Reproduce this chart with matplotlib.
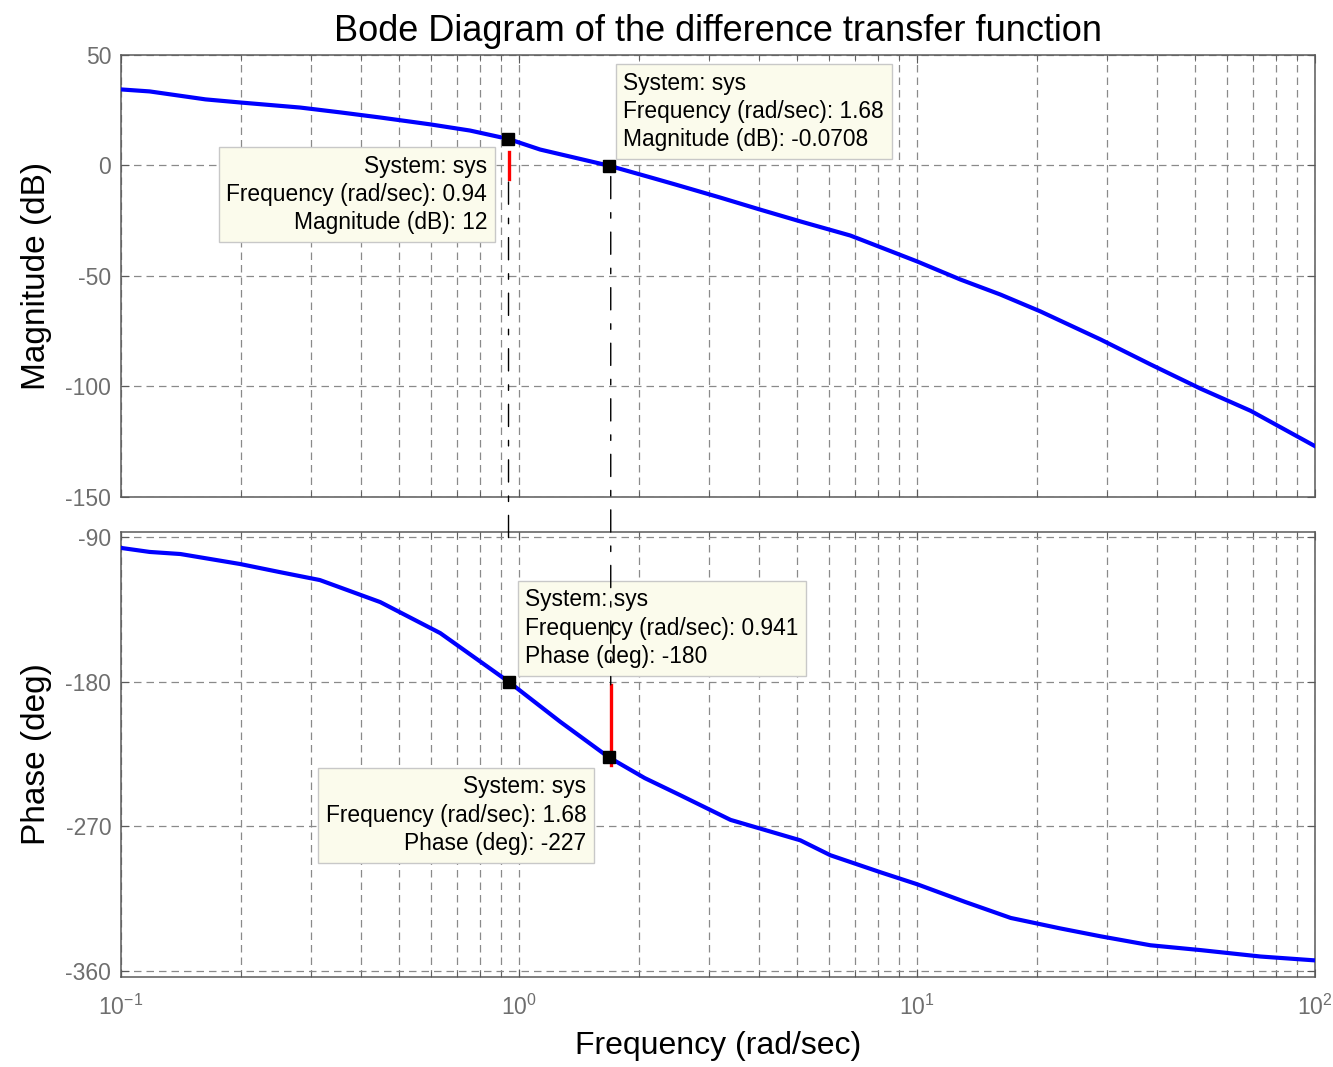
import matplotlib
matplotlib.use("Agg")
import matplotlib.pyplot as plt
import matplotlib.ticker as mticker
from matplotlib.patches import ConnectionPatch

plt.rcParams["font.family"] = ["Liberation Sans", "DejaVu Sans"]
plt.rcParams["mathtext.fontset"] = "custom"
plt.rcParams["mathtext.rm"] = "Liberation Sans"
plt.rcParams["mathtext.it"] = "Liberation Sans:italic"
plt.rcParams["axes.unicode_minus"] = False

# magnitude response (rad/sec, dB)
mag_freq = [0.1, 0.118, 0.163, 0.199, 0.282, 0.356, 0.448, 0.598, 0.753, 0.94,
            1.13, 1.68, 2.14, 2.47, 3.2, 4.04, 5.09, 6.8, 8.1, 10.0,
            12.85, 16.2, 20.4, 28.9, 38.6, 51.6, 68.9, 100.0]
mag_db = [34.4, 33.5, 29.9, 28.5, 26.2, 24.0, 21.7, 18.6, 15.8, 12.0,
          7.2, -0.0708, -5.4, -8.6, -14.5, -20.0, -25.3, -31.7, -37.0, -43.4,
          -51.6, -58.4, -66.0, -78.7, -90.0, -101.0, -111.0, -127.0]

# phase response (rad/sec, deg)
ph_freq = [0.1, 0.118, 0.141, 0.199, 0.25, 0.316, 0.448, 0.634, 0.941, 1.27,
           1.68, 2.07, 2.54, 3.4, 5.09, 6.06, 8.1, 10.0, 13.2, 17.2,
           22.9, 28.9, 38.6, 51.6, 73.0, 100.0]
ph_deg = [-96.8, -99.3, -100.6, -106.8, -111.8, -116.8, -130.5, -149.8, -180.0, -205.0,
          -227.0, -240.0, -250.6, -266.0, -278.7, -288.0, -298.6, -306.0, -317.0, -327.0,
          -333.5, -338.4, -344.0, -347.0, -351.0, -353.4]

# data tips: (frequency, value, text)
mag_tips = [(0.94, 12.0, "System: sys\nFrequency (rad/sec): 0.94\nMagnitude (dB): 12"),
            (1.68, -0.0708, "System: sys\nFrequency (rad/sec): 1.68\nMagnitude (dB): -0.0708")]
ph_tips = [(0.941, -180.0, "System: sys\nFrequency (rad/sec): 0.941\nPhase (deg): -180"),
           (1.68, -227.0, "System: sys\nFrequency (rad/sec): 1.68\nPhase (deg): -227")]

# stability margin markers
gm_freq = 0.941
gm_span = (6.0, -6.3)
pm_freq = 1.70
pm_span = (-182.0, -232.0)

GRID_GREY = "#8a8a8a"
AXIS_GREY = "#5a5a5a"
TIP_FACE = "#fbfbec"
TIP_EDGE = "#c8c8c8"


def _style_axes(ax, yticks, ylim):
    ax.set_xscale("log")
    ax.set_xlim(0.1, 100)
    ax.set_ylim(*ylim)
    ax.set_yticks(yticks)
    ax.grid(True, which="major", axis="both", color=GRID_GREY, ls=(0, (6, 4)), lw=0.9)
    ax.grid(True, which="minor", axis="x", color=GRID_GREY, ls=(0, (6, 4)), lw=0.9)
    ax.tick_params(which="both", direction="in", top=True, right=True,
                   colors=AXIS_GREY, labelsize=16.5, labelcolor="#6e6e6e")
    ax.tick_params(which="major", length=6)
    ax.tick_params(which="minor", length=4)
    ax.tick_params(axis="y", pad=7)
    ax.tick_params(axis="x", pad=13)
    for sp in ax.spines.values():
        sp.set_color(AXIS_GREY)
        sp.set_linewidth(1.1)


def _tip(ax, f, v, text, tx, ty, ha):
    ax.plot([f], [v], marker="s", ms=9, color="black", zorder=6)
    ax.text(tx, ty, text, ha=ha, va="center", fontsize=16.4, linespacing=1.3,
            multialignment=ha, zorder=5,
            bbox=dict(boxstyle="square,pad=0.33", fc=TIP_FACE, ec=TIP_EDGE, lw=1))


fig = plt.figure(figsize=(13.33, 10.67), dpi=100)
ax_mag = fig.add_axes([0.0908, 0.5342, 0.8957, 0.4143])
ax_ph = fig.add_axes([0.0908, 0.0844, 0.8957, 0.4170])

ax_mag.plot(mag_freq, mag_db, color="#0000ff", lw=3, zorder=4)
ax_ph.plot(ph_freq, ph_deg, color="#0000ff", lw=3, zorder=4)

_style_axes(ax_mag, [50, 0, -50, -100, -150], (-150, 50))
_style_axes(ax_ph, [-90, -180, -270, -360], (-363.7, -86.9))
ax_mag.tick_params(axis="x", labelbottom=False)
ax_ph.xaxis.set_major_locator(mticker.LogLocator(base=10))

ax_mag.set_title("Bode Diagram of the difference transfer function", fontsize=26, pad=10)
ax_mag.set_ylabel("Magnitude (dB)", fontsize=24, labelpad=10)
ax_ph.set_ylabel("Phase (deg)", fontsize=24, labelpad=10)
ax_ph.set_xlabel("Frequency (rad/sec)", fontsize=23, labelpad=8)

# margin lines: red segments plus dash-dot verticals spanning both panels
ax_mag.plot([gm_freq, gm_freq], gm_span, color="red", lw=2.4, zorder=5)
ax_ph.plot([pm_freq, pm_freq], pm_span, color="red", lw=2.4, zorder=5)
dashdot = (0, (16, 10, 4, 10))
for xa, ya, xb, yb in [(gm_freq, -7.5, gm_freq, -95.0), (pm_freq, -5.0, pm_freq, -182.0)]:
    con = ConnectionPatch(xyA=(xa, ya), coordsA=ax_mag.transData,
                          xyB=(xb, yb), coordsB=ax_ph.transData,
                          color="black", lw=1.0, linestyle=dashdot, zorder=7)
    fig.add_artist(con)

_tip(ax_mag, *mag_tips[0][:2], mag_tips[0][2], 0.832, -13.1, "right")
_tip(ax_mag, *mag_tips[1][:2], mag_tips[1][2], 1.828, 24.4, "left")
_tip(ax_ph, *ph_tips[0][:2], ph_tips[0][2], 1.036, -146.7, "left")
_tip(ax_ph, *ph_tips[1][:2], ph_tips[1][2], 1.476, -263.1, "right")

fig.savefig("out.png", dpi=100)
